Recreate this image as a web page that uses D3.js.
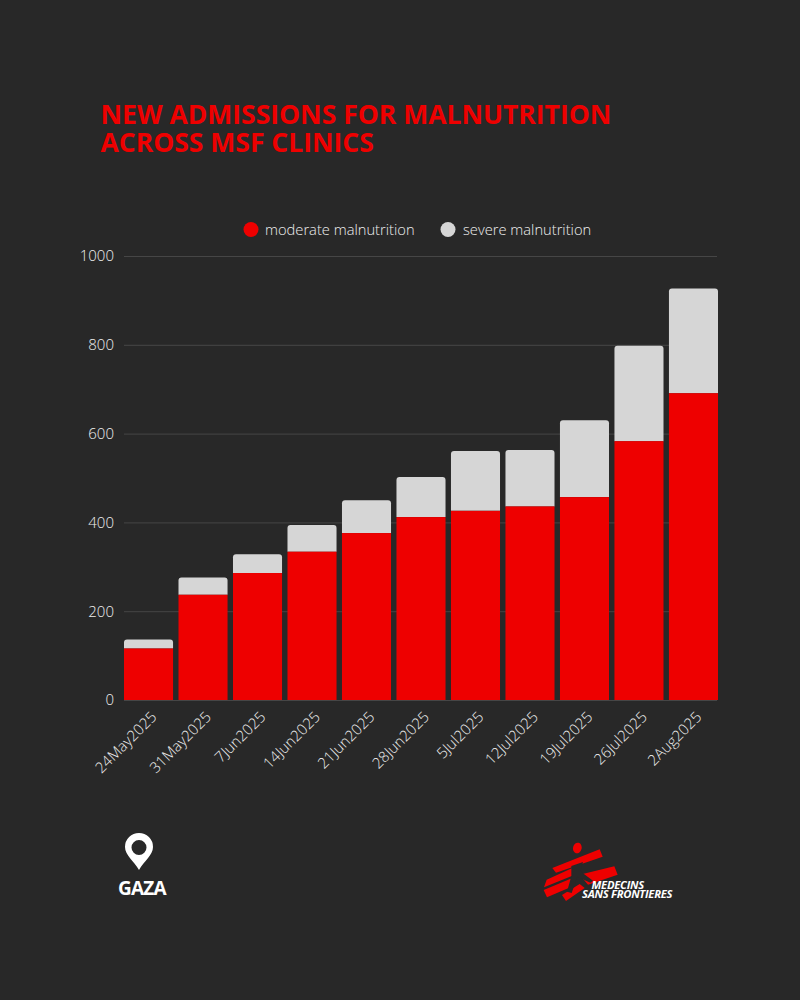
<!DOCTYPE html>
<html><head><meta charset="utf-8">
<script src="https://cdn.jsdelivr.net/npm/d3@7/dist/d3.min.js"></script>
<style>html,body{margin:0;padding:0;background:#282828}svg{display:block}text{font-family:"Open Sans",sans-serif}</style>
</head><body><div id="chart"></div>
<script>
const categories=["24May2025","31May2025","7Jun2025","14Jun2025","21Jun2025","28Jun2025","5Jul2025","12Jul2025","19Jul2025","26Jul2025","2Aug2025"];
const moderate=[116,237,286,334,376,412,426,436,457,583,691];
const severe=[20,39,42,60,74,90,135,127,173,215,236];
const yTicks=[0,200,400,600,800,1000];
const titleLines=["NEW ADMISSIONS FOR MALNUTRITION","ACROSS MSF CLINICS"];
const legendItems=[["moderate malnutrition","#ee0000"],["severe malnutrition","#d6d6d6"]];

const svg=d3.select("#chart").append("svg").attr("width",800).attr("height",1000);
svg.append("rect").attr("width",800).attr("height",1000).attr("fill","#282828");

svg.selectAll("text.title").data(titleLines).join("text").attr("class","title")
 .attr("x",100.5).attr("y",(d,i)=>124+i*28.3).attr("fill","#ee0000")
 .attr("font-size",26.5).attr("font-weight",700).text(d=>d);

const x=d3.scaleBand().domain(categories).range([124,718]).paddingInner(0.1).paddingOuter(0);
const y=d3.scaleLinear().domain([0,1000]).range([700,256]);

const yAxis=svg.append("g").attr("transform","translate(124,0)")
 .call(d3.axisLeft(y).tickValues(yTicks).tickSize(0).tickPadding(10).tickFormat(d3.format("d")));
yAxis.select(".domain").remove();
yAxis.selectAll("text").attr("fill","#eeeeee").attr("font-size",15).attr("font-weight",300).style("font-family",'"Open Sans",sans-serif');
yAxis.selectAll("line").attr("x1",0).attr("x2",593).attr("stroke","#464646").attr("stroke-width",1);

const xAxis=svg.append("g").attr("transform","translate(0,700)")
 .call(d3.axisBottom(x).tickSize(0).tickPadding(0));
xAxis.select(".domain").remove();
xAxis.selectAll("text").attr("fill","#eeeeee").attr("font-size",15).attr("font-weight",300)
 .style("font-family",'"Open Sans",sans-serif')
 .attr("text-anchor","end").attr("dy",0).attr("y",0)
 .attr("transform","translate(9,18) rotate(-45)");

function topRounded(px,py,w,h,r){
 return `M${px},${py+h}V${py+r}Q${px},${py} ${px+r},${py}H${px+w-r}Q${px+w},${py} ${px+w},${py+r}V${py+h}Z`;
}
const rows=categories.map((c,i)=>({c,m:moderate[i],s:severe[i]}));
svg.append("g").selectAll("path").data(rows).join("path")
 .attr("d",d=>topRounded(x(d.c),y(d.m+d.s),x.bandwidth(),y(d.m)-y(d.m+d.s),3))
 .attr("fill","#d6d6d6");
svg.append("g").selectAll("rect").data(rows).join("rect")
 .attr("x",d=>x(d.c)).attr("y",d=>y(d.m)).attr("width",x.bandwidth()).attr("height",d=>y(0)-y(d.m))
 .attr("fill","#ee0000");

const legendX=[251,448];
const lg=svg.append("g").selectAll("g").data(legendItems).join("g")
 .attr("transform",(d,i)=>`translate(${legendX[i]},229.5)`);
lg.append("circle").attr("r",7.5).attr("fill",d=>d[1]);
lg.append("text").attr("x",(d,i)=>14+i).attr("y",5.5).attr("fill","#eeeeee").attr("font-size",14.7).attr("font-weight",300).text(d=>d[0]);

// location pin
svg.append("path").attr("fill-rule","evenodd").attr("fill","#fff")
 .attr("d","M139,870 C134,861 125,855 125,847 A14,14 0 0 1 153,847 C153,855 144,861 139,870 Z M139,840 A7.5,7.5 0 1 0 139,855 A7.5,7.5 0 1 0 139,840 Z");
svg.append("text").attr("x",118).attr("y",895).attr("fill","#fff").attr("font-size",19).attr("font-weight",700).attr("letter-spacing",-0.8).text("GAZA");

// logo
const logo=svg.append("g").attr("transform","translate(538,838) scale(0.3333)");
logo.append("ellipse").attr("cx",118).attr("cy",30).attr("rx",13).attr("ry",16).attr("fill","#ee0000").attr("transform","rotate(15 118 30)");
["M43,90L185,34L194,56L54,104Z","M125,110L229,85L239,110L150,140Z",
 "M26,125L108,88L116,108L18,148Z","M17,156L98,122L106,144L27,178Z",
 "M72,171L125,138L140,150L84,189Z"].forEach(d=>logo.append("path").attr("d",d).attr("fill","#ee0000"));
logo.append("path").attr("d","M100,84L135,72L127,100L165,128L157,134L118,116L101,165L87,161L100,115Z").attr("fill","#282828");
[["MEDECINS",591.5,888.5],["SANS FRONTIERES",582,897.5]].forEach(t=>{
 svg.append("text").attr("x",t[1]).attr("y",t[2]).attr("fill","#fff").attr("font-size",11.2).attr("font-weight",700).attr("font-style","italic").attr("letter-spacing",-0.25).text(t[0]);
});
</script></body></html>
